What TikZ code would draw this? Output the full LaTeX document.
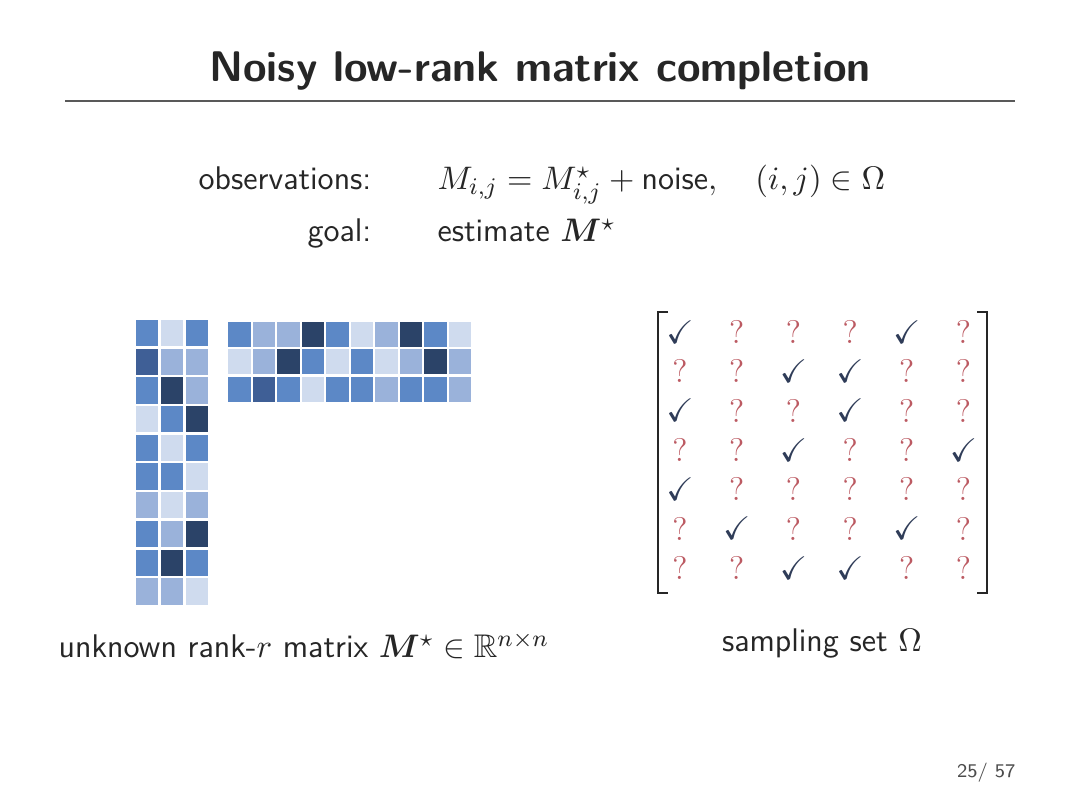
\documentclass[tikz,border=0pt]{standalone}
\usepackage{amsmath,amssymb,bm}
\definecolor{cA}{HTML}{CFDBEE}
\definecolor{cB}{HTML}{9AB2DA}
\definecolor{cC}{HTML}{5C88C6}
\definecolor{cD}{HTML}{3F5F96}
\definecolor{cE}{HTML}{2B4368}
\definecolor{txt}{HTML}{262626}
\definecolor{chk}{HTML}{2F3C58}
\definecolor{qm}{HTML}{BC5A62}
\tikzset{
  cell/.style={inner sep=0pt},
  body/.style={inner sep=0pt, text=txt, font=\fontsize{11}{13}\selectfont\sffamily},
  entry/.style={inner sep=0pt, font=\fontsize{11}{13}\selectfont},
  brk/.style={draw=txt, line width=0.7pt},
}
\begin{document}
\begin{tikzpicture}[x=0.33593pt, y=-0.33593pt]
\useasboundingbox (0,0) rectangle (1080,810);
\fill[white] (0,0) rectangle (1080,810);
% title
\node[anchor=base, inner sep=0pt, text=txt, font=\fontsize{14.4}{17}\selectfont\sffamily\bfseries] (title) at (540,82) {Noisy low-rank matrix completion};
\draw[draw=black!65, line width=0.5pt] (65,101) -- (1015,101);
% observations
\node[body, anchor=base east] (obsl) at (372,190) {observations:};
\node[body, anchor=base west] (obsr) at (437,190) {$M_{i,j} = M^\star_{i,j} + \text{noise}, \quad (i,j)\in\Omega$};
\node[body, anchor=base east] (goall) at (372,242) {goal:};
\node[body, anchor=base west] (goalr) at (437,242) {estimate $\bm{M}^\star$};
% tall matrix 10x3
\foreach \row [count=\r from 0] in {{C,A,C},{D,B,B},{C,E,B},{A,C,E},{C,A,C},{C,C,A},{B,A,B},{C,B,E},{C,E,C},{B,B,A}}{
  \foreach \c [count=\k from 0] in \row {
    \fill[c\c] ({136+25*\k},{320+28.7*\r}) rectangle ++(21.5,26.3);
  }
}
% wide matrix 3x10
\foreach \row [count=\r from 0] in {{C,B,B,E,C,A,B,E,C,A},{A,B,E,C,A,C,A,B,E,B},{C,D,C,A,C,C,B,C,C,B}}{
  \foreach \c [count=\k from 0] in \row {
    \fill[c\c] ({228+24.55*\k},{322+27.5*\r}) rectangle ++(22.5,25);
  }
}
% sampling matrix 7x6
\foreach \row [count=\r from 0] in {{1,0,0,0,1,0},{0,0,1,1,0,0},{1,0,0,1,0,0},{0,0,1,0,0,1},{1,0,0,0,0,0},{0,1,0,0,1,0},{0,0,1,1,0,0}}{
  \foreach \v [count=\k from 0] in \row {
    \ifnum\v=1
      \node[entry, text=chk] (s\r\k) at ({680+56.7*\k},{332+39.3*\r}) {$\checkmark$};
    \else
      \node[entry, text=qm] (s\r\k) at ({680+56.7*\k},{332+39.3*\r}) {?};
    \fi
  }
}
\draw[brk] (668,312) -- (658,312) -- (658,593) -- (668,593);
\draw[brk] (977,312) -- (987,312) -- (987,593) -- (977,593);
% captions
\node[body, anchor=base] (capl) at (304,658) {unknown rank-$r$ matrix $\bm{M}^\star\in\mathbb{R}^{n\times n}$};
\node[body, anchor=base] (capr) at (822,652) {sampling set $\Omega$};
% page number
\node[inner sep=0pt, anchor=base east, text=black!70, font=\fontsize{6.5}{8}\selectfont\sffamily] (page) at (1016,778) {25/ 57};
\end{tikzpicture}
\end{document}
